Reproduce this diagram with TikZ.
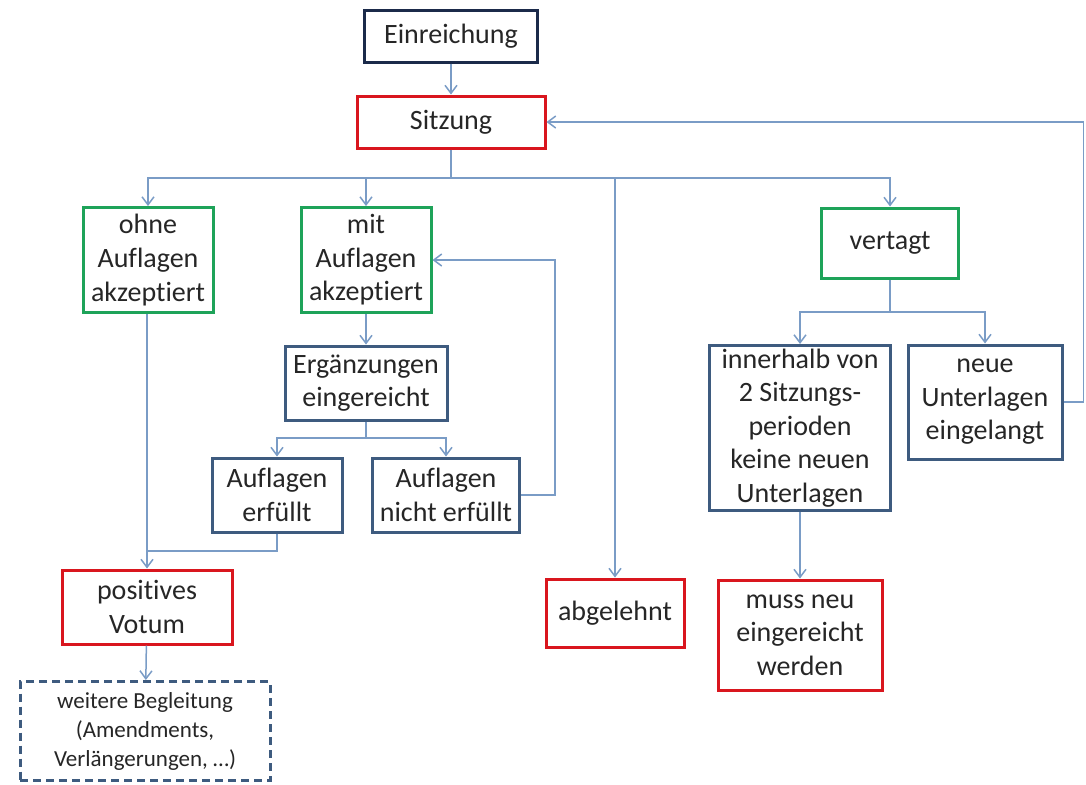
\documentclass[tikz,border=0pt]{standalone}
\usepackage{fontspec}
\setmainfont{Carlito}[Ligatures={NoCommon}]
\usepackage{xcolor}
\usepackage{tikz}
\usetikzlibrary{positioning,calc,arrows.meta}
\definecolor{navyline}{HTML}{1B2A4A}
\definecolor{redline}{HTML}{D9161E}
\definecolor{greenline}{HTML}{1EA359}
\definecolor{steelline}{HTML}{3E5B7F}
\definecolor{connline}{HTML}{7A9CC6}
\definecolor{textgray}{HTML}{262626}
\tikzset{
  box/.style={draw, fill=white, line width=1.5pt, align=center, inner sep=1pt,
    text=textgray, font=\fontsize{14}{16.8}\selectfont},
  navybox/.style={box, draw=navyline},
  redbox/.style={box, draw=redline},
  greenbox/.style={box, draw=greenline},
  steelbox/.style={box, draw=steelline},
  conn/.style={draw=connline, line width=0.75pt},
  arr/.style={conn, -{Straight Barb[length=4pt,width=6pt]}}
}

\begin{document}
\begin{tikzpicture}[x=0.5pt,y=-0.5pt]
        \useasboundingbox (0,0) rectangle (1086,784);
        % top
        \node[navybox, minimum width=86.5pt, minimum height=26pt] (einr) at (451,36) {Einreichung};
        \node[redbox, minimum width=94pt, minimum height=26pt] (sitz) at (451,122) {Sitzung};
        \draw[arr] (einr) -- (sitz);
        % first decision
        \node[greenbox, minimum width=65pt, minimum height=52.5pt] (ohne) at (148,260) {ohne\\Auflagen\\akzeptiert};
        \node[greenbox, minimum width=65pt, minimum height=52.5pt] (mit) at (366,260) {mit\\Auflagen\\akzeptiert};
        \node[redbox, minimum width=69pt, minimum height=34pt] (abgel) at (615,613) {abgelehnt};
        \node[greenbox, minimum width=68.5pt, minimum height=35pt] (vert) at (890,243) {vertagt};
        \coordinate (split) at (451,178);
        \draw[conn] (sitz.south) -- (split);
        \draw[arr] (split) -| (ohne.north);
        \draw[arr] (split) -| (mit.north);
        \draw[arr] (split) -| (abgel.north);
        \draw[arr] (split) -| (vert.north);
        % with conditions
        \node[steelbox, minimum width=81pt, minimum height=37pt] (ergz) at (366,383) {Ergänzungen\\eingereicht};
        \node[steelbox, minimum width=65pt, minimum height=37pt] (erf) at (277,495) {Auflagen\\erfüllt};
        \node[steelbox, minimum width=73.5pt, minimum height=37pt] (nerf) at (446,495) {Auflagen\\nicht erfüllt};
        \draw[arr] (mit) -- (ergz);
        \coordinate (split2) at (366,438);
        \draw[conn] (ergz.south) -- (split2);
        \draw[arr] (split2) -| (erf.north);
        \draw[arr] (split2) -| (nerf.north);
        \draw[arr] (nerf.east) -- ++(34,0) |- (mit.east);
        % positive result
        \node[redbox, minimum width=85pt, minimum height=37pt] (votum) at (147,607) {positives\\Votum};
        \node[box, draw=steelline, dashed, dash pattern=on 4pt off 2.5pt, minimum width=125pt, minimum height=49.5pt,
          font=\fontsize{11.5}{14.5}\selectfont] (begl) at (145,731) {weitere Begleitung\\(Amendments,\\Verlängerungen, \dots)};
        \draw[arr] (ohne.south -| votum.north) -- (votum.north);
        \coordinate (merge) at (147,551);
        \draw[conn] (erf.south) |- (merge);
        \draw[arr] (votum) -- (begl);
        % postponed
        \node[steelbox, minimum width=90.5pt, minimum height=82.5pt] (innh) at (800,428) {innerhalb von\\2 Sitzungs-\\perioden\\keine neuen\\Unterlagen};
        \node[steelbox, minimum width=77pt, minimum height=57pt] (neue) at (985,402) {neue\\Unterlagen\\eingelangt};
        \node[redbox, minimum width=82pt, minimum height=55pt] (neuein) at (800,635) {muss neu\\eingereicht\\werden};
        \coordinate (split3) at (890,312);
        \draw[conn] (vert.south) -- (split3);
        \draw[arr] (split3) -| (innh.north);
        \draw[arr] (split3) -| (neue.north);
        \draw[arr] (innh) -- (neuein);
        \draw[arr] (neue.east) -- ++(20,0) |- (sitz.east);
    \end{tikzpicture}
\end{document}
